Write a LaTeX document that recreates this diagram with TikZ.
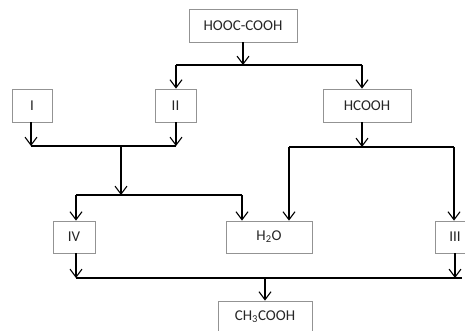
\documentclass[tikz,border=0pt]{standalone}
\usepackage{fontspec}
\setmainfont{Carlito}
\usetikzlibrary{arrows.meta}

\begin{document}
\begin{tikzpicture}[x=1pt, y=-1pt,
  box/.style={draw=gray!85, line width=0.7pt, minimum height=33pt, inner sep=0pt,
    font=\fontsize{15}{18}\selectfont, text=black!85},
  link/.style={line width=1.1pt},
  arr/.style={link, -{Straight Barb[length=8pt, width=12pt]}}]
\useasboundingbox (0,0) rectangle (465,330);
% boxes
\node[box, minimum width=108pt] (hooc) at (243,25.5) {HOOC-COOH};
\node[box, minimum width=40pt] (one) at (32,105.5) {I};
\node[box, minimum width=41pt] (two) at (175.5,105.5) {II};
\node[box, minimum width=88pt] (hcooh) at (367,105.5) {HCOOH};
\node[box, minimum width=42pt, minimum height=32pt] (four) at (74,237) {IV};
\node[box, minimum width=86pt, minimum height=32pt] (water) at (269,237) {H\textsubscript{2}O};
\node[box, minimum width=40pt, minimum height=32pt] (three) at (455,237) {III};
\node[box, minimum width=94pt, minimum height=32pt] (acetic) at (265,317) {CH\textsubscript{3}COOH};
% oxalic acid split
\coordinate (t) at (243,65);
\coordinate (t1) at (176,65);
\coordinate (t2) at (362,65);
\draw[arr] (hooc.south) -- (t);
\draw[link] (t1) -- (t2);
\draw[arr] (t1) -- (t1 |- two.north);
\draw[arr] (t2) -- (t2 |- hcooh.north);
% I and II merge
\coordinate (m1) at (31,146);
\coordinate (m2) at (176,146);
\coordinate (m) at (121,146);
\coordinate (d) at (121,195);
\coordinate (d1) at (76,195);
\coordinate (d2) at (242,195);
\draw[arr] (m1 |- one.south) -- (m1);
\draw[arr] (m2 |- two.south) -- (m2);
\draw[link] (m1) -- (m2);
\draw[arr] (m) -- (d);
\draw[link] (d1) -- (d2);
\draw[arr] (d1) -- (d1 |- four.north);
\draw[arr] (d2) -- (d2 |- water.north);
% formic acid split
\coordinate (h) at (362,147);
\coordinate (h1) at (289,147);
\coordinate (h2) at (454,147);
\draw[arr] (h |- hcooh.south) -- (h);
\draw[link] (h1) -- (h2);
\draw[arr] (h1) -- (h1 |- water.north);
\draw[arr] (h2) -- (h2 |- three.north);
% IV and III merge
\coordinate (b1) at (76,278);
\coordinate (b2) at (455,278);
\coordinate (b3) at (462,278);
\coordinate (b) at (265,278);
\draw[arr] (b1 |- four.south) -- (b1);
\draw[arr] (b2 |- three.south) -- (b2);
\draw[link] (b1) -- (b3);
\draw[arr] (b) -- (acetic.north);
\end{tikzpicture}
\end{document}
